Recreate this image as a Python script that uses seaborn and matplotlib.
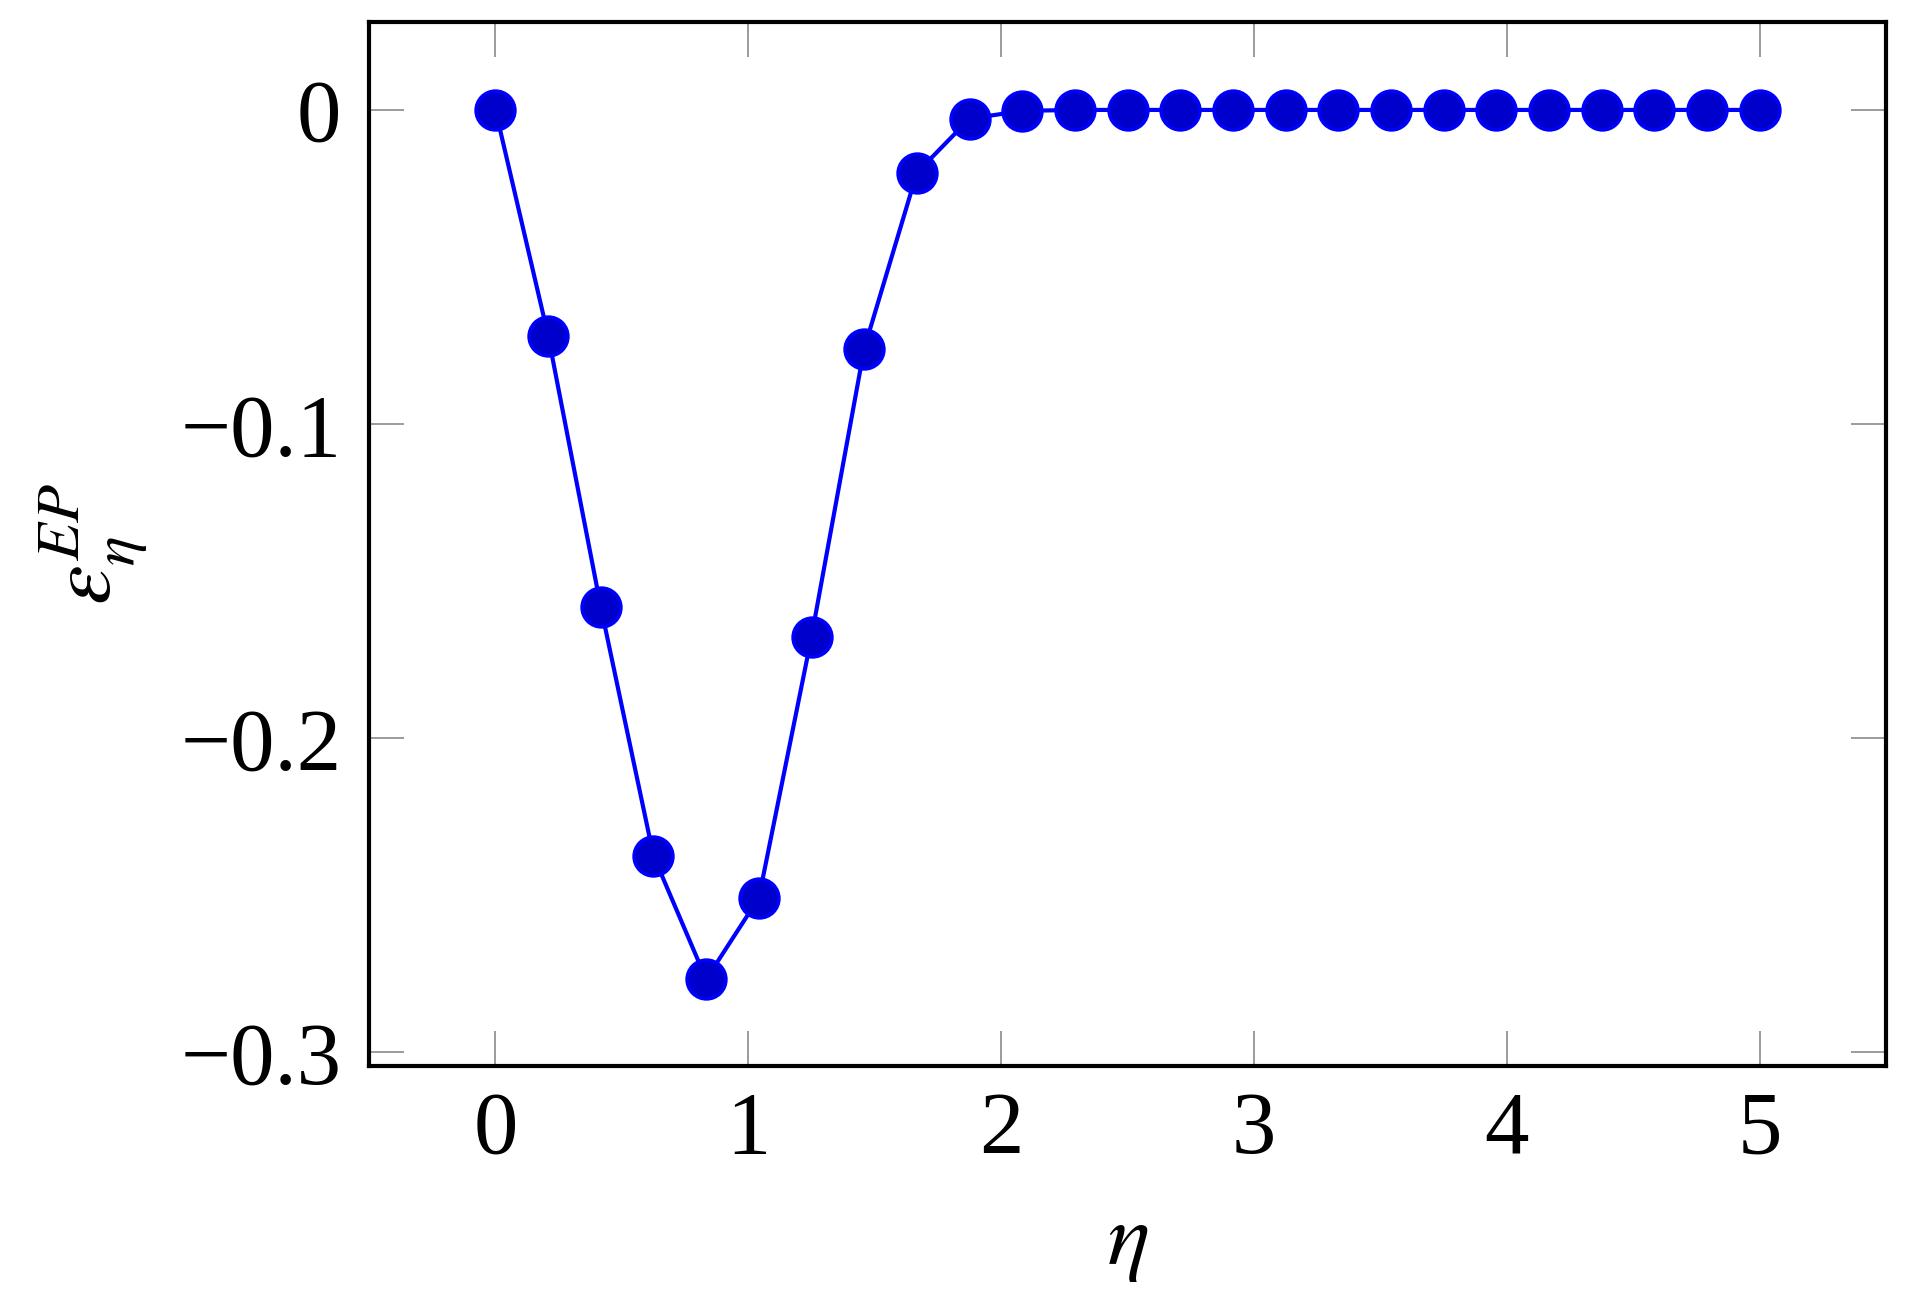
import numpy as np
import matplotlib
matplotlib.use("Agg")
import matplotlib.pyplot as plt
import seaborn as sns
import pandas as pd

# data (25 points, eta from 0 to 5)
eta = [0.0, 0.2083, 0.4167, 0.625, 0.8333, 1.0417, 1.25, 1.4583, 1.6667,
       1.875, 2.0833, 2.2917, 2.5, 2.7083, 2.9167, 3.125, 3.3333, 3.5417,
       3.75, 3.9583, 4.1667, 4.375, 4.5833, 4.7917, 5.0]
eps_ep = [0.0, -0.0718, -0.1582, -0.2374, -0.2767, -0.2508, -0.1677, -0.0760,
          -0.0200, -0.0028, -0.0003, 0.0, 0.0, 0.0, 0.0, 0.0, 0.0, 0.0,
          0.0, 0.0, 0.0, 0.0, 0.0, 0.0, 0.0]
xticks = [0, 1, 2, 3, 4, 5]
yticks = [0, -0.1, -0.2, -0.3]

sns.set_style("ticks")
plt.rcParams['font.family'] = ['Liberation Serif', 'DejaVu Serif']
plt.rcParams['mathtext.fontset'] = 'stix'
plt.rcParams['text.color'] = 'black'
plt.rcParams['axes.labelcolor'] = 'black'
plt.rcParams['xtick.labelcolor'] = 'black'
plt.rcParams['ytick.labelcolor'] = 'black'

df = pd.DataFrame({'eta': eta, 'eps': eps_ep})

fig = plt.figure(figsize=(19.17, 13.07), dpi=100)
ax = fig.add_axes([0.1925, 0.1844, 0.7914, 0.7988])

sns.lineplot(data=df, x='eta', y='eps', ax=ax, color='#0000ff', linewidth=3,
             marker='o', markersize=28, markerfacecolor='#0000cc',
             markeredgecolor='#0000ff', markeredgewidth=2.5)

ax.set_xlim(-0.5, 5.5)
ax.set_ylim(-0.3043, 0.028)
ax.set_xticks(xticks)
ax.set_yticks(yticks)
ax.set_xticklabels([str(t) for t in xticks])
ax.set_yticklabels(['0' if t == 0 else '\u2212' + f"{abs(t):.1f}" for t in yticks])

ax.tick_params(direction='in', length=25, width=1.1, color='#808080',
               labelsize=64, labelcolor='black', top=True, right=True)
ax.tick_params(axis='x', pad=18)
ax.tick_params(axis='y', pad=20)
for s in ax.spines.values():
    s.set_linewidth(3)
    s.set_color('black')

ax.set_xlabel(r'$\eta$', fontsize=64, labelpad=22)
ax.set_ylabel(r'$\varepsilon_\eta^{EP}$', fontsize=64, labelpad=22)

fig.savefig('out.png', dpi=100)
